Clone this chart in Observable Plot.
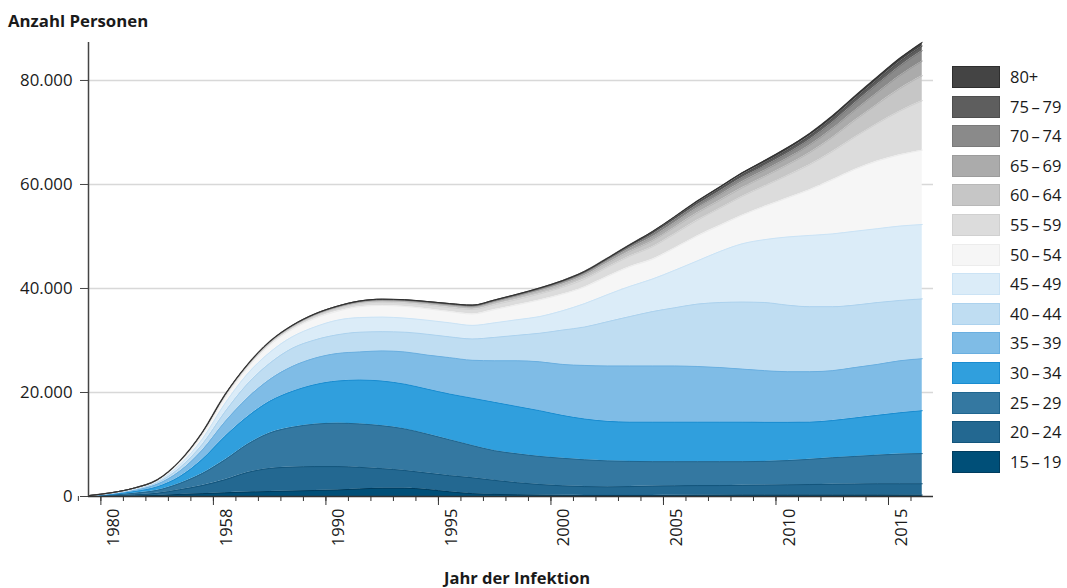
<!DOCTYPE html>
<html><head><meta charset="utf-8">
<script src="https://cdn.jsdelivr.net/npm/d3@7"></script>
<script src="https://cdn.jsdelivr.net/npm/@observablehq/plot@0.6"></script>
<style>
body{margin:0;background:#fff;}
#wrap{position:relative;width:1067px;height:588px;font-family:"Open Sans",sans-serif;color:#1a1a1a;overflow:hidden;}
#title{position:absolute;left:8px;top:11px;font-size:16.8px;font-weight:700;line-height:20px;}
#xtitle{position:absolute;left:0;width:1034px;text-align:center;top:568px;font-size:16.5px;font-weight:700;line-height:20px;}
#chart{position:absolute;left:0;top:0;}
.sw{position:absolute;left:952px;width:46px;height:20px;box-sizing:content-box;}
.lb{position:absolute;left:1010px;font-size:16.5px;line-height:20px;white-space:nowrap;}
</style>
</head><body>
<div id="wrap">
  <div id="chart"></div>
  <div id="title">Anzahl Personen</div>
  <div id="xtitle">Jahr der Infektion</div>
  <div id="legend"></div>
</div>
<script>
const years = [1979,1980,1981,1982,1983,1984,1985,1986,1987,1988,1989,1990,1991,1992,1993,1994,1995,1996,1997,1998,1999,2000,2001,2002,2003,2004,2005,2006,2007,2008,2009,2010,2011,2012,2013,2014,2015,2016];
const groups = ["15\u2009\u2013\u200919","20\u2009\u2013\u200924","25\u2009\u2013\u200929","30\u2009\u2013\u200934","35\u2009\u2013\u200939","40\u2009\u2013\u200944","45\u2009\u2013\u200949","50\u2009\u2013\u200954","55\u2009\u2013\u200959","60\u2009\u2013\u200964","65\u2009\u2013\u200969","70\u2009\u2013\u200974","75\u2009\u2013\u200979","80+"];
const fills   = ["#004f78","#236891","#3478a1","#309fdd","#7fbce6","#bfddf2","#dbecf8","#f6f6f6","#dcdcdc","#c6c6c6","#ababab","#8a8a8a","#5e5e5e","#444444"];
const strokes = ["#003c5e","#13557c","#1f6690","#1a8cd0","#6aafe0","#acd2ee","#cbe3f5","#ececec","#d0d0d0","#b8b8b8","#9c9c9c","#7a7a7a","#4e4e4e","#2e2e2e"];

const g15_19 = [15,50,100,200,400,550,700,850,950,1050, 1150,1250,1450,1600,1600,1350,900,550,400,330, 270,220,200,200,200,200,220,250,270,300, 300,300,300,300,300,300,280,270];
const g20_24 = [25,100,220,420,900,1550,2500,3750,4450,4600, 4600,4500,4150,3750,3400,3150,3100,3050,2700,2320, 2030,1830,1700,1650,1700,1800,1830,1850,1830,1850, 1900,1950,2000,2050,2100,2150,2170,2180];
const g25_29 = [35,130,300,560,1200,2300,3800,5400,6800,7650, 8150,8350,8350,8250,8000,7500,6900,6200,5700,5550, 5400,5300,5150,5000,4850,4700,4650,4600,4600,4550, 4550,4650,4850,5100,5300,5500,5700,5800];
const g30_34 = [35,140,330,670,1300,2700,4500,5300,6100,6900, 7600,8100,8450,8600,8600,8650,8800,9100,9300,9100, 8800,8250,7850,7600,7550,7600,7600,7600,7600,7600, 7500,7350,7150,7150,7400,7650,7950,8250];
const g35_39 = [30,120,250,500,1050,1800,2800,3600,4200,4800, 5100,5300,5400,5800,6200,6550,7000,7300,8000,8800, 9400,9800,10300,10650,10800,10800,10800,10700,10500,10200, 9950,9750,9700,9600,9700,9800,10000,10000];
const g40_44 = [25,80,160,300,650,1100,1900,2700,3100,3500, 3500,3600,3800,3700,3800,4000,4000,4100,4500,4900, 5500,6600,7400,8500,9500,10450,11200,12000,12500,12900, 13100,12800,12500,12300,12000,11900,11600,11500];
const g45_49 = [15,50,110,230,550,1000,1600,1900,2100,2200, 2500,2800,2800,2800,2700,2700,2700,2600,2800,3000, 3200,3700,4500,5200,5800,6250,7200,8300,9800,11200, 12100,13100,13700,14000,14200,14200,14300,14300];
const g50_54 = [10,40,100,170,450,850,1100,1100,1350,1400, 1600,1700,2100,2250,2250,2200,2150,2200,2550,2850, 3200,3200,3200,3500,3800,3800,4300,4800,5000,5500, 6400,7500,8800,10400,11900,13000,13700,14300];
const g55_59 = [5,20,40,75,150,225,300,350,375,400, 450,500,550,600,650,700,775,850,925,1025, 1150,1300,1500,1750,2000,2400,2700,3000,3300,3600, 3900,4300,4800,5400,6200,7200,8400,9500];
const g60_64 = [3,9,18,33,66,100,130,155,165,175, 200,220,240,265,285,310,340,375,405,450, 505,570,660,770,900,1100,1250,1400,1500,1650, 1800,2000,2300,2700,3200,3700,4300,4800];
const g65_69 = [2,5,10,18,36,54,72,85,90,95, 110,120,130,145,155,170,185,205,220,245, 275,310,360,420,550,750,850,950,1050,1150, 1200,1300,1450,1650,1900,2200,2500,2800];
const g70_74 = [0,3,6,12,24,36,48,55,60,65, 70,80,90,95,105,110,125,135,150,165, 185,210,240,280,380,500,550,600,700,800, 850,900,1050,1200,1400,1600,1800,2000];
const g75_79 = [0,2,4,8,15,22,30,35,38,40, 45,50,55,60,65,70,80,85,95,100, 115,130,150,175,240,350,400,450,500,550, 600,650,700,750,800,850,900,900];
const g80    = [0,1,2,4,9,13,20,20,22,25, 25,30,35,35,40,40,45,50,55,65, 70,80,90,105,130,200,250,300,350,400, 450,500,500,550,550,600,650,700];

const series = [g15_19,g20_24,g25_29,g30_34,g35_39,g40_44,g45_49,g50_54,g55_59,g60_64,g65_69,g70_74,g75_79,g80];

const yTicks = [0,20000,40000,60000,80000];
const majorYears = [1980,1985,1990,1995,2000,2005,2010,2015];
const xLabels = ["1980","1958","1990","1995","2000","2005","2010","2015"];
const xDomain = [1979.45, 2017];

const rows = [];
groups.forEach((g, gi) => years.forEach((yr, i) => rows.push({year: yr, group: g, gi, value: series[gi][i]})));
const totals = years.map((_, i) => d3.sum(series, s => s[i]));
const fmt = d => d3.format(",")(d).replace(/,/g, ".");
const xPos = d => d.year + 0.5;

const chart = Plot.plot({
  width: 940, height: 588,
  marginLeft: 88, marginRight: 7, marginTop: 42, marginBottom: 92,
  style: {fontFamily: "'Open Sans', sans-serif", fontSize: "16px", color: "#1a1a1a", background: "transparent", overflow: "visible"},
  x: {domain: xDomain},
  y: {domain: [0, d3.max(totals)]},
  color: {type: "identity"},
  marks: [
    Plot.gridY(yTicks.slice(1), {stroke: "#d8d8d8", strokeOpacity: 1, strokeWidth: 1.5}),
    Plot.areaY(rows, {x: xPos, y: "value", z: "group", fill: d => fills[d.gi], order: groups, curve: "monotone-x"}),
    Plot.lineY(rows, Plot.stackY2({x: xPos, y: "value", z: "group", stroke: d => strokes[d.gi], order: groups, curve: "monotone-x", strokeWidth: 1})),
    Plot.ruleY([0], {stroke: "#333", strokeWidth: 1.5}),
    Plot.ruleX([xDomain[0]], {stroke: "#444", strokeWidth: 1.5}),
    Plot.axisY(yTicks, {tickSize: 8, tickPadding: 8, tickFormat: fmt, fontSize: 16.8, stroke: "#444", fill: "#1a1a1a", label: null}),
    Plot.axisX(years, {tickSize: 5, tickFormat: () => "", stroke: "#333", label: null}),
    Plot.axisX(majorYears, {tickSize: 9, tickFormat: () => "", stroke: "#333", label: null}),
    Plot.text(majorYears, {x: d => d + 0.5, text: (d, i) => xLabels[i], frameAnchor: "bottom", rotate: -90, textAnchor: "end", lineAnchor: "middle", dy: 12, dx: 2, fontSize: 16.5, fill: "#1a1a1a"})
  ]
});
document.getElementById("chart").appendChild(chart);

const legend = document.getElementById("legend");
for (let k = 0; k < groups.length; k++) {
  const gi = groups.length - 1 - k;
  const top = 66 + k * 29.6;
  const sw = document.createElement("div");
  sw.className = "sw";
  sw.style.top = top + "px";
  sw.style.background = fills[gi];
  sw.style.border = "1px solid " + strokes[gi];
  legend.appendChild(sw);
  const lb = document.createElement("div");
  lb.className = "lb";
  lb.style.top = (top + 1) + "px";
  lb.textContent = groups[gi];
  legend.appendChild(lb);
}
</script>
</body></html>
